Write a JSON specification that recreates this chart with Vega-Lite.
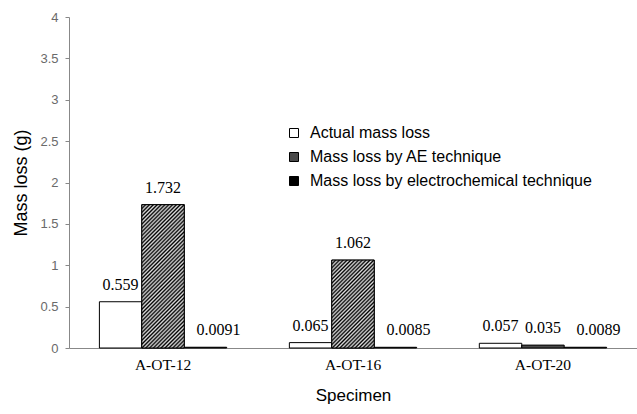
{
  "$schema": "https://vega.github.io/schema/vega-lite/v6.json",
  "autosize": "none",
  "width": 568,
  "height": 331,
  "padding": {"left": 69, "top": 17, "right": 0, "bottom": 66},
  "background": "white",
  "config": {"view": {"stroke": null}},
  "data": {
    "values": [
      {"specimen": "A-OT-12", "series": "Actual mass loss", "value": 0.559, "label": "0.559"},
      {"specimen": "A-OT-12", "series": "Mass loss by AE technique", "value": 1.732, "label": "1.732"},
      {"specimen": "A-OT-12", "series": "Mass loss by electrochemical technique", "value": 0.0091, "label": "0.0091"},
      {"specimen": "A-OT-16", "series": "Actual mass loss", "value": 0.065, "label": "0.065"},
      {"specimen": "A-OT-16", "series": "Mass loss by AE technique", "value": 1.062, "label": "1.062"},
      {"specimen": "A-OT-16", "series": "Mass loss by electrochemical technique", "value": 0.0085, "label": "0.0085"},
      {"specimen": "A-OT-20", "series": "Actual mass loss", "value": 0.057, "label": "0.057"},
      {"specimen": "A-OT-20", "series": "Mass loss by AE technique", "value": 0.035, "label": "0.035"},
      {"specimen": "A-OT-20", "series": "Mass loss by electrochemical technique", "value": 0.0089, "label": "0.0089"}
    ]
  },
  "encoding": {
    "x": {
      "field": "specimen", "type": "nominal",
      "scale": {"paddingInner": 0.33, "paddingOuter": 0.16},
      "axis": {
        "title": "Specimen", "labelAngle": 0, "ticks": false,
        "domainColor": "#888888", "labelFont": "Liberation Serif", "labelFontSize": 15.5,
        "labelColor": "#000000", "labelPadding": 9,
        "titleFont": "Liberation Sans", "titleFontSize": 17, "titleFontWeight": "normal",
        "titleColor": "#000000", "titlePadding": 15
      }
    },
    "xOffset": {"field": "series", "type": "nominal", "sort": ["Actual mass loss", "Mass loss by AE technique", "Mass loss by electrochemical technique"]},
    "y": {
      "field": "value", "type": "quantitative",
      "scale": {"domain": [0, 4], "nice": false},
      "axis": {
        "title": "Mass loss (g)", "values": [0, 0.5, 1, 1.5, 2, 2.5, 3, 3.5, 4],
        "format": ".1~f", "grid": false, "domainColor": "#888888", "tickColor": "#888888",
        "tickSize": 4, "labelFont": "Liberation Sans", "labelFontSize": 13, "labelColor": "#6a6a6a",
        "labelPadding": 7,
        "titleFont": "Liberation Sans", "titleFontSize": 18, "titleFontWeight": "normal",
        "titleColor": "#000000", "titlePadding": 9
      }
    }
  },
  "layer": [
    {
      "mark": {"type": "bar", "stroke": "#000000", "strokeWidth": 1},
      "encoding": {
        "color": {
          "field": "series", "type": "nominal",
          "sort": ["Actual mass loss", "Mass loss by AE technique", "Mass loss by electrochemical technique"],
          "scale": {"domain": ["Actual mass loss", "Mass loss by AE technique", "Mass loss by electrochemical technique"], "range": ["#ffffff", "#4a4a4a", "#000000"]},
          "legend": {
            "title": null, "orient": "none", "legendX": 217, "legendY": 108,
            "symbolType": "square", "symbolSize": 81, "symbolStrokeColor": "#000000", "symbolStrokeWidth": 1,
            "labelFont": "Liberation Sans", "labelFontSize": 16, "labelColor": "#000000", "labelLimit": 0,
            "rowPadding": 8, "labelOffset": 8
          }
        }
      }
    },
    {
      "transform": [{"filter": "datum.series === 'Mass loss by AE technique' && datum.specimen === 'A-OT-12'"}],
      "mark": {"type": "bar", "stroke": "#000000", "strokeWidth": 1,
        "fill": {"gradient": "linear", "x1": 0, "y1": 0, "x2": 0.355, "y2": 1.192, "stops": [
          {"offset": 0, "color": "#000000"}, {"offset": 0.0104, "color": "#dddddd"},
          {"offset": 0.0208, "color": "#000000"}, {"offset": 0.0313, "color": "#dddddd"},
          {"offset": 0.0417, "color": "#000000"}, {"offset": 0.0521, "color": "#dddddd"},
          {"offset": 0.0625, "color": "#000000"}, {"offset": 0.0729, "color": "#dddddd"},
          {"offset": 0.0833, "color": "#000000"}, {"offset": 0.0938, "color": "#dddddd"},
          {"offset": 0.1042, "color": "#000000"}, {"offset": 0.1146, "color": "#dddddd"},
          {"offset": 0.125, "color": "#000000"}, {"offset": 0.1354, "color": "#dddddd"},
          {"offset": 0.1458, "color": "#000000"}, {"offset": 0.1563, "color": "#dddddd"},
          {"offset": 0.1667, "color": "#000000"}, {"offset": 0.1771, "color": "#dddddd"},
          {"offset": 0.1875, "color": "#000000"}, {"offset": 0.1979, "color": "#dddddd"},
          {"offset": 0.2083, "color": "#000000"}, {"offset": 0.2188, "color": "#dddddd"},
          {"offset": 0.2292, "color": "#000000"}, {"offset": 0.2396, "color": "#dddddd"},
          {"offset": 0.25, "color": "#000000"}, {"offset": 0.2604, "color": "#dddddd"},
          {"offset": 0.2708, "color": "#000000"}, {"offset": 0.2813, "color": "#dddddd"},
          {"offset": 0.2917, "color": "#000000"}, {"offset": 0.3021, "color": "#dddddd"},
          {"offset": 0.3125, "color": "#000000"}, {"offset": 0.3229, "color": "#dddddd"},
          {"offset": 0.3333, "color": "#000000"}, {"offset": 0.3438, "color": "#dddddd"},
          {"offset": 0.3542, "color": "#000000"}, {"offset": 0.3646, "color": "#dddddd"},
          {"offset": 0.375, "color": "#000000"}, {"offset": 0.3854, "color": "#dddddd"},
          {"offset": 0.3958, "color": "#000000"}, {"offset": 0.4063, "color": "#dddddd"},
          {"offset": 0.4167, "color": "#000000"}, {"offset": 0.4271, "color": "#dddddd"},
          {"offset": 0.4375, "color": "#000000"}, {"offset": 0.4479, "color": "#dddddd"},
          {"offset": 0.4583, "color": "#000000"}, {"offset": 0.4688, "color": "#dddddd"},
          {"offset": 0.4792, "color": "#000000"}, {"offset": 0.4896, "color": "#dddddd"},
          {"offset": 0.5, "color": "#000000"}, {"offset": 0.5104, "color": "#dddddd"},
          {"offset": 0.5208, "color": "#000000"}, {"offset": 0.5313, "color": "#dddddd"},
          {"offset": 0.5417, "color": "#000000"}, {"offset": 0.5521, "color": "#dddddd"},
          {"offset": 0.5625, "color": "#000000"}, {"offset": 0.5729, "color": "#dddddd"},
          {"offset": 0.5833, "color": "#000000"}, {"offset": 0.5938, "color": "#dddddd"},
          {"offset": 0.6042, "color": "#000000"}, {"offset": 0.6146, "color": "#dddddd"},
          {"offset": 0.625, "color": "#000000"}, {"offset": 0.6354, "color": "#dddddd"},
          {"offset": 0.6458, "color": "#000000"}, {"offset": 0.6563, "color": "#dddddd"},
          {"offset": 0.6667, "color": "#000000"}, {"offset": 0.6771, "color": "#dddddd"},
          {"offset": 0.6875, "color": "#000000"}, {"offset": 0.6979, "color": "#dddddd"},
          {"offset": 0.7083, "color": "#000000"}, {"offset": 0.7188, "color": "#dddddd"},
          {"offset": 0.7292, "color": "#000000"}, {"offset": 0.7396, "color": "#dddddd"},
          {"offset": 0.75, "color": "#000000"}, {"offset": 0.7604, "color": "#dddddd"},
          {"offset": 0.7708, "color": "#000000"}, {"offset": 0.7813, "color": "#dddddd"},
          {"offset": 0.7917, "color": "#000000"}, {"offset": 0.8021, "color": "#dddddd"},
          {"offset": 0.8125, "color": "#000000"}, {"offset": 0.8229, "color": "#dddddd"},
          {"offset": 0.8333, "color": "#000000"}, {"offset": 0.8438, "color": "#dddddd"},
          {"offset": 0.8542, "color": "#000000"}, {"offset": 0.8646, "color": "#dddddd"},
          {"offset": 0.875, "color": "#000000"}, {"offset": 0.8854, "color": "#dddddd"},
          {"offset": 0.8958, "color": "#000000"}, {"offset": 0.9063, "color": "#dddddd"},
          {"offset": 0.9167, "color": "#000000"}, {"offset": 0.9271, "color": "#dddddd"},
          {"offset": 0.9375, "color": "#000000"}, {"offset": 0.9479, "color": "#dddddd"},
          {"offset": 0.9583, "color": "#000000"}, {"offset": 0.9688, "color": "#dddddd"},
          {"offset": 0.9792, "color": "#000000"}, {"offset": 0.9896, "color": "#dddddd"},
          {"offset": 1, "color": "#000000"}
        ]}
      }
    },
    {
      "transform": [{"filter": "datum.series === 'Mass loss by AE technique' && datum.specimen === 'A-OT-16'"}],
      "mark": {"type": "bar", "stroke": "#000000", "strokeWidth": 1,
        "fill": {"gradient": "linear", "x1": 0, "y1": 0, "x2": 0.584, "y2": 1.202, "stops": [
          {"offset": 0, "color": "#000000"}, {"offset": 0.0147, "color": "#dddddd"},
          {"offset": 0.0294, "color": "#000000"}, {"offset": 0.0441, "color": "#dddddd"},
          {"offset": 0.0588, "color": "#000000"}, {"offset": 0.0735, "color": "#dddddd"},
          {"offset": 0.0882, "color": "#000000"}, {"offset": 0.1029, "color": "#dddddd"},
          {"offset": 0.1176, "color": "#000000"}, {"offset": 0.1324, "color": "#dddddd"},
          {"offset": 0.1471, "color": "#000000"}, {"offset": 0.1618, "color": "#dddddd"},
          {"offset": 0.1765, "color": "#000000"}, {"offset": 0.1912, "color": "#dddddd"},
          {"offset": 0.2059, "color": "#000000"}, {"offset": 0.2206, "color": "#dddddd"},
          {"offset": 0.2353, "color": "#000000"}, {"offset": 0.25, "color": "#dddddd"},
          {"offset": 0.2647, "color": "#000000"}, {"offset": 0.2794, "color": "#dddddd"},
          {"offset": 0.2941, "color": "#000000"}, {"offset": 0.3088, "color": "#dddddd"},
          {"offset": 0.3235, "color": "#000000"}, {"offset": 0.3382, "color": "#dddddd"},
          {"offset": 0.3529, "color": "#000000"}, {"offset": 0.3676, "color": "#dddddd"},
          {"offset": 0.3824, "color": "#000000"}, {"offset": 0.3971, "color": "#dddddd"},
          {"offset": 0.4118, "color": "#000000"}, {"offset": 0.4265, "color": "#dddddd"},
          {"offset": 0.4412, "color": "#000000"}, {"offset": 0.4559, "color": "#dddddd"},
          {"offset": 0.4706, "color": "#000000"}, {"offset": 0.4853, "color": "#dddddd"},
          {"offset": 0.5, "color": "#000000"}, {"offset": 0.5147, "color": "#dddddd"},
          {"offset": 0.5294, "color": "#000000"}, {"offset": 0.5441, "color": "#dddddd"},
          {"offset": 0.5588, "color": "#000000"}, {"offset": 0.5735, "color": "#dddddd"},
          {"offset": 0.5882, "color": "#000000"}, {"offset": 0.6029, "color": "#dddddd"},
          {"offset": 0.6176, "color": "#000000"}, {"offset": 0.6324, "color": "#dddddd"},
          {"offset": 0.6471, "color": "#000000"}, {"offset": 0.6618, "color": "#dddddd"},
          {"offset": 0.6765, "color": "#000000"}, {"offset": 0.6912, "color": "#dddddd"},
          {"offset": 0.7059, "color": "#000000"}, {"offset": 0.7206, "color": "#dddddd"},
          {"offset": 0.7353, "color": "#000000"}, {"offset": 0.75, "color": "#dddddd"},
          {"offset": 0.7647, "color": "#000000"}, {"offset": 0.7794, "color": "#dddddd"},
          {"offset": 0.7941, "color": "#000000"}, {"offset": 0.8088, "color": "#dddddd"},
          {"offset": 0.8235, "color": "#000000"}, {"offset": 0.8382, "color": "#dddddd"},
          {"offset": 0.8529, "color": "#000000"}, {"offset": 0.8676, "color": "#dddddd"},
          {"offset": 0.8824, "color": "#000000"}, {"offset": 0.8971, "color": "#dddddd"},
          {"offset": 0.9118, "color": "#000000"}, {"offset": 0.9265, "color": "#dddddd"},
          {"offset": 0.9412, "color": "#000000"}, {"offset": 0.9559, "color": "#dddddd"},
          {"offset": 0.9706, "color": "#000000"}, {"offset": 0.9853, "color": "#dddddd"},
          {"offset": 1, "color": "#000000"}
        ]}
      }
    },
    {
      "transform": [{"filter": "datum.series !== 'Mass loss by electrochemical technique'"}],
      "mark": {"type": "text", "baseline": "bottom", "dy": -9, "font": "Liberation Serif", "fontSize": 16, "color": "#000000"},
      "encoding": {"text": {"field": "label"}}
    },
    {
      "transform": [{"filter": "datum.series === 'Mass loss by electrochemical technique'"}],
      "mark": {"type": "text", "baseline": "bottom", "dy": -9, "dx": 13, "font": "Liberation Serif", "fontSize": 16, "color": "#000000"},
      "encoding": {"text": {"field": "label"}}
    }
  ]
}
